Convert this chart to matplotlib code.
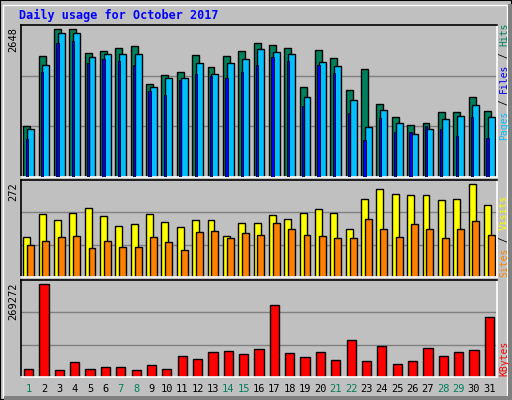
import numpy as np
import matplotlib.pyplot as plt
from matplotlib.patches import Rectangle

# ======================================================
# Data
# ======================================================

days = list(range(1, 32))
weekend = [1, 7, 8, 14, 15, 21, 22, 28, 29]

hits = [895, 2105, 2578, 2578, 2157, 2192, 2245, 2280, 1614, 1771, 1824,
        2122, 1912, 2105, 2192, 2333, 2297, 2245, 1561, 2210, 2070, 1508,
        1877, 1280, 1052, 912, 947, 1140, 1140, 1386, 1158]
pages = [842, 1947, 2508, 2508, 2087, 2140, 2140, 2140, 1561, 1719, 1719,
         1982, 1789, 1982, 2052, 2228, 2175, 2140, 1386, 2000, 1929, 1333,
         877, 1175, 947, 754, 842, 1017, 1070, 1263, 1052]
files = [667, 1824, 2333, 2368, 1982, 2052, 2017, 1947, 1491, 1421, 1684,
         1789, 1754, 1719, 1824, 1947, 2087, 2017, 1245, 1947, 1807, 1123,
         649, 1035, 789, 789, 895, 842, 719, 1052, 684]

visits = [111, 176, 159, 179, 193, 171, 142, 148, 176, 154, 139, 159, 159,
          114, 151, 151, 173, 162, 179, 190, 179, 136, 219, 247, 233, 230,
          230, 216, 219, 262, 202]
sites = [91, 102, 111, 114, 82, 100, 85, 85, 111, 97, 77, 125, 128, 108,
         122, 119, 151, 136, 119, 114, 108, 108, 162, 136, 111, 148, 134,
         108, 134, 156, 117]

kbytes = [23500, 258000, 20700, 40500, 23500, 26400, 26400, 20700, 32000,
          23500, 57400, 49000, 68700, 71600, 63000, 77200, 198700, 65900,
          54600, 68700, 46100, 102600, 43300, 85700, 34800, 43300, 80000,
          57400, 68700, 74400, 167600]

max_hits = 2648
max_visits = 272
max_kbytes = 269272

# ======================================================
# Colours
# ======================================================

C_HITS = '#00805c'
C_FILES = '#0000ff'
C_PAGES = '#00c0ff'
C_VISITS = '#ffff00'
C_SITES = '#ff8000'
C_KBYTES = '#ff0000'
C_BG = '#c0c0c0'
MONO = 'DejaVu Sans Mono'
SIDE_FS = 7

W, H = 512, 400
fig = plt.figure(figsize=(W / 100, H / 100), dpi=100, facecolor=C_BG)

# outer bevel
fig.patches.append(Rectangle((0, 0), 1, 1, transform=fig.transFigure,
                             fill=False, edgecolor='black', lw=1.5))
fig.patches.append(Rectangle((3 / W, 3 / H), 1 - 8 / W, 1 - 8 / H,
                             transform=fig.transFigure, fill=False,
                             edgecolor='white', lw=1))
fig.patches.append(Rectangle((W - 4, 0), 4, H - 4, transform=None,
                             facecolor='#808080', edgecolor='none'))
fig.patches.append(Rectangle((4, 0), W - 8, 4, transform=None,
                             facecolor='#808080', edgecolor='none'))

fig.text(19 / W, 1 - 15 / H, "Daily usage for October 2017", color='#0000ff',
         family=MONO, fontsize=8.5, fontweight='bold', va='center')


def panel(top, bottom):
    ax = fig.add_axes([21 / W, 1 - bottom / H, 476 / W, (bottom - top) / H])
    ax.set_facecolor(C_BG)
    ax.set_xlim(0, 31)
    ax.set_xticks([])
    ax.set_yticks([])
    for s in ['top', 'left']:
        ax.spines[s].set_color('black')
    for s in ['bottom', 'right']:
        ax.spines[s].set_color('white')
    for s in ax.spines.values():
        s.set_linewidth(1.2)
    return ax


def grid(ax, ymax):
    for f in (1 / 3, 2 / 3):
        ax.axhline(ymax * f, color='#808080', lw=1, zorder=0)


x = np.arange(31)

# ======================================================
# Hits / Files / Pages
# ======================================================

ax1 = panel(25, 177)
ax1.set_ylim(0, max_hits)
grid(ax1, max_hits)
ax1.bar(x + 0.15, hits, width=0.45, align='edge', color=C_HITS,
        edgecolor='black', lw=1)
ax1.bar(x + 0.30, files, width=0.15, align='edge', color=C_FILES,
        edgecolor='black', lw=0.6, zorder=3)
ax1.bar(x + 0.40, pages, width=0.45, align='edge', color=C_PAGES,
        edgecolor='black', lw=1, zorder=2)

# ======================================================
# Visits / Sites
# ======================================================

ax2 = panel(180, 277)
ax2.set_ylim(0, max_visits)
grid(ax2, max_visits)
ax2.bar(x + 0.15, visits, width=0.45, align='edge', color=C_VISITS,
        edgecolor='black', lw=1)
ax2.bar(x + 0.40, sites, width=0.45, align='edge', color=C_SITES,
        edgecolor='black', lw=1)

# ======================================================
# KBytes
# ======================================================

ax3 = panel(280, 377)
ax3.set_ylim(0, max_kbytes)
grid(ax3, max_kbytes)
ax3.bar(x + 0.2, kbytes, width=0.6, align='edge', color=C_KBYTES,
        edgecolor='black', lw=1)

for d in days:
    ax3.text(d - 0.5, -0.12, str(d), transform=ax3.get_xaxis_transform(),
             ha='center', va='center', family=MONO, fontsize=7.5,
             color=C_HITS if d in weekend else 'black')

# max labels on the left
for ax, top, v in [(ax1, 27, max_hits), (ax2, 182, max_visits),
                   (ax3, 282, max_kbytes)]:
    fig.text(13 / W, 1 - top / H, str(v), rotation=90, ha='center',
             va='top', family=MONO, fontsize=7.5)


# right-hand legend labels, read bottom to top
def side_label(parts, bottom):
    step = 0.602 * SIDE_FS * 100 / 72
    y = bottom
    for txt, col in parts:
        fig.text(504 / W, 1 - y / H, txt, rotation=90, ha='center',
                 va='bottom', family=MONO, fontsize=SIDE_FS, color=col)
        y -= len(txt) * step


side_label([("Pages", C_PAGES), (" / ", 'black'), ("Files", C_FILES),
            (" / ", 'black'), ("Hits", C_HITS)], 140)
side_label([("Sites", C_SITES), (" / ", 'black'), ("Visits", C_VISITS)], 277)
side_label([("KBytes", C_KBYTES)], 376)

fig.savefig('out.png', dpi=100, facecolor=C_BG)
